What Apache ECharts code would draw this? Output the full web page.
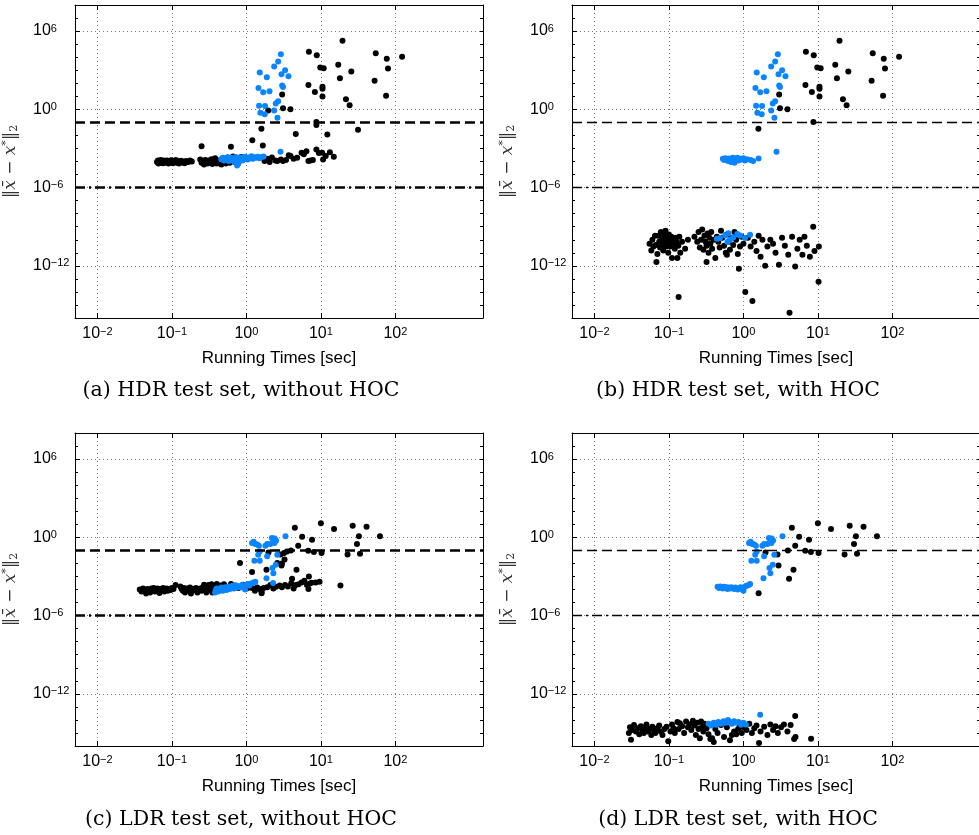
<!DOCTYPE html>
<html>
<head>
<meta charset="utf-8">
<script src="https://cdn.jsdelivr.net/npm/echarts@6/dist/echarts.min.js"></script>
<style>
html, body { margin: 0; background: #fff; }
#chart { width: 979px; height: 835px; }
</style>
</head>
<body>
<div id="chart"></div>
<script>
'use strict';

// ticks and reference levels
var xTicks = [0.01, 0.1, 1, 10, 100];
var yTicks = [1e-12, 1e-6, 1, 1e6];
var yDecades = [1e-16, 1e-15, 1e-14, 1e-13, 1e-12, 1e-11, 1e-10, 1e-9, 1e-8, 1e-7, 1e-6, 1e-5, 1e-4,
  1e-3, 1e-2, 1e-1, 1, 10, 100, 1e3, 1e4, 1e5, 1e6, 1e7, 1e8];
var thresholds = [0.1, 1e-6];
var captions = ['(a) HDR test set, without HOC', '(b) HDR test set, with HOC',
  '(c) LDR test set, without HOC', '(d) LDR test set, with HOC'];

// HDR, points that are the same with and without HOC
var hdrHighBlack = [[19.5,1.8e5],[6.9,2.6e4],[8.8,1.4e4],[9.8,1.6e3],[10.9,1.4e3],[17.1,2.6e3],[25.6,790],
  [18,240],[6.8,74],[8.3,21],[10.5,55],[10.5,38],[10.5,9.5],[21.7,5.9],[24.3,2.1],[54.5,2e4],[76.6,7.4e3],
  [79.6,1.35e3],[123,1.1e4],[52.6,158],[75,11.2],[3.02,14],[3.1,1.2],[3.9,1],[8.7,0.107],[1.59,0.032]];
var hdrHighBlue = [[2.9,1.7e4],[2.67,4.7e3],[2.36,1.9e3],[3.31,1e3],[1.51,660],[1.88,290],[2.96,490],
  [3.67,345],[1.45,44],[1.68,20],[2.04,24],[3.02,66],[3.1,52],[1.48,1.9],[1.78,1.8],[1.54,0.55],
  [1.76,0.42],[2.36,0.83],[2.48,2.75],[2.67,4.2],[2.61,0.23]];

// (a) HDR without HOC
var hdrBlackA = [[8.7,0.063],[1.96,0.83],[4.6,0.0126],[12.2,0.012],[31.5,0.027],[1.2,4.2e-3],[1.66,1.7e-3],
  [0.25,1.5e-3],[0.62,1.35e-3],[8.7,8.4e-4],[13.2,5.2e-4],[10.4,4.7e-4],[6.4,6e-4],[5.5,4.7e-4],
  [0.063,9e-5],[0.065,1.2e-4],[0.066,7e-5],[0.068,1e-4],[0.07,8e-5],[0.071,1.3e-4],[0.073,9e-5],
  [0.075,1.1e-4],[0.076,7.5e-5],[0.078,1.2e-4],[0.08,9e-5],[0.082,1.05e-4],[0.084,8e-5],[0.086,1.2e-4],
  [0.088,9.5e-5],[0.09,7e-5],[0.092,1.1e-4],[0.095,8.5e-5],[0.098,1.25e-4],[0.1,9e-5],[0.103,7.5e-5],
  [0.106,1.1e-4],[0.11,9e-5],[0.113,1.3e-4],[0.117,8e-5],[0.12,1.05e-4],[0.124,7e-5],[0.128,9.5e-5],
  [0.132,1.15e-4],[0.136,8.5e-5],[0.142,1e-4],[0.148,7.5e-5],[0.155,1.1e-4],[0.165,9e-5],[0.175,1.2e-4],
  [0.185,1e-4],
  [0.24,1.4e-4],[0.25,8e-5],[0.26,1.1e-4],[0.27,6e-5],[0.28,1.3e-4],[0.29,9e-5],[0.3,7e-5],[0.31,1.2e-4],
  [0.33,8e-5],[0.34,1.5e-4],[0.35,6.5e-5],[0.37,1e-4],[0.38,1.8e-4],[0.4,7e-5],[0.42,1.2e-4],[0.44,9e-5],
  [0.46,6e-5],[0.48,1.6e-4],[0.5,1e-4],[0.53,7e-5],[0.56,2e-4],[0.6,8e-5],[0.63,1.3e-4],[0.66,2.4e-4],
  [0.7,9e-5],[0.75,1.8e-4],[0.8,1.2e-4],[0.85,2.2e-4],
  [1.75,1.1e-4],[1.9,1.6e-4],[2.05,9e-5],[2.2,2e-4],[2.45,1.2e-4],[2.6,1.1e-4],[2.9,1.4e-4],[3.1,1.1e-4],
  [3.4,1.3e-4],[3.7,3e-4],[3.9,2.6e-4],[4.3,1.6e-4],[4.8,1.9e-4],[5.9,3.6e-4],[6.8,1.1e-4],[7.3,1.2e-4],
  [7.8,1.3e-4],[9.4,4.5e-4],[10.7,1.4e-4],[11.6,2.6e-4],[14.9,2.3e-4]];
var hdrBlueA = [[0.46,1.5e-4],[0.48,1.9e-4],[0.5,1.2e-4],[0.52,1.7e-4],[0.54,1.4e-4],[0.56,2.1e-4],
  [0.58,1.1e-4],[0.6,1.6e-4],[0.62,1.9e-4],[0.64,1.3e-4],[0.66,1.7e-4],[0.68,1e-4],[0.7,1.5e-4],
  [0.72,2.2e-4],[0.74,1.2e-4],[0.76,1.8e-4],[0.78,7e-5],[0.8,1.4e-4],[0.82,2e-4],[0.85,1.6e-4],
  [0.88,1.2e-4],[0.9,1.9e-4],[0.93,1.5e-4],[0.96,2.3e-4],[1.0,1.7e-4],[1.04,1.4e-4],[1.08,2e-4],
  [1.12,1.8e-4],[1.17,2.5e-4],[1.22,1.6e-4],[1.28,2.1e-4],[1.35,1.9e-4],[1.42,2.3e-4],[1.5,1.8e-4],
  [1.6,2.2e-4],[1.7,2.4e-4],[0.75,5e-5],[2.87,5.6e-4]];

// (b) HDR with HOC
var hdrBlackB = [[0.055,5e-11],[0.058,1.5e-11],[0.06,1e-10],[0.062,3e-11],[0.065,2e-10],[0.067,4e-11],
  [0.068,2e-12],[0.07,8e-12],[0.072,2e-10],[0.074,7e-11],[0.076,2.5e-11],[0.078,4e-10],[0.08,1e-10],
  [0.082,3.5e-11],[0.084,1.5e-11],[0.086,2e-10],[0.088,7e-11],[0.09,5e-10],[0.092,3e-11],[0.094,1.5e-10],
  [0.096,5e-11],[0.098,1e-11],[0.1,2.5e-10],[0.103,8e-11],[0.105,3e-11],[0.108,1.7e-10],[0.11,4e-12],
  [0.113,1e-10],[0.116,5e-11],[0.12,2e-11],[0.123,1.4e-10],[0.126,7e-11],[0.13,4e-12],[0.134,3.5e-11],
  [0.138,1.7e-10],[0.142,1e-11],[0.135,4e-15],[0.15,7e-11],[0.165,2e-11],[0.18,1e-10],
  [0.22,1.7e-10],[0.24,7e-11],[0.25,4e-10],[0.26,2.5e-11],[0.27,1e-10],[0.28,6e-10],[0.29,1.7e-11],
  [0.3,2e-10],[0.31,7e-11],[0.32,3.5e-11],[0.33,3e-10],[0.34,1e-11],[0.35,1.4e-10],[0.36,5e-11],[0.37,4e-10],
  [0.38,2e-11],[0.4,1e-10],[0.42,4e-12],[0.44,1.7e-10],[0.46,7e-11],[0.48,2.5e-11],[0.5,5e-10],[0.52,1.4e-10],
  [0.55,3.5e-11],[0.58,1e-11],[0.6,2.5e-10],[0.63,7e-11],[0.66,1.7e-11],[0.7,1.4e-10],[0.73,4e-11],
  [0.76,4e-10],[0.8,1e-10],[0.84,8e-12],[0.87,6e-13],[0.9,3e-11],[0.95,1.7e-10],[1.0,5e-11],[0.32,2e-12],
  [0.6,7e-12],[1.06,1e-14],
  [1.15,1.4e-10],[1.25,3e-11],[1.32,2e-15],[1.4,7e-11],[1.5,1.4e-11],[1.6,2e-10],[1.7,5e-12],[1.8,1e-10],
  [1.96,1e-12],[2.1,3e-11],[2.3,1e-10],[2.5,5e-11],[2.7,1e-11],[3.0,1.2e-12],[3.3,1.4e-10],[3.6,3.5e-11],
  [4.0,7e-12],[4.16,2.5e-16],[4.5,1.7e-10],[4.96,9e-13],[5.3,2e-11],[5.7,1e-10],[6.2,7e-12],[6.6,1.7e-10],
  [7.1,3.5e-11],[7.8,5e-12],[8.65,1e-9],[9.0,1.4e-11],[10.2,6e-14],[10.3,3e-11]];
var hdrBlueB = [[0.53,1.6e-4],[0.55,1.3e-4],[0.57,1.8e-4],[0.6,1.4e-4],[0.62,1.1e-4],[0.64,1.7e-4],
  [0.66,1.3e-4],[0.68,9e-5],[0.7,1.5e-4],[0.72,1.9e-4],[0.74,1.1e-4],[0.76,8e-5],[0.78,1.6e-4],[0.8,1.3e-4],
  [0.83,1.9e-4],[0.86,1.2e-4],[0.9,1.6e-4],[0.95,1.4e-4],[1.0,1.8e-4],[1.05,1.2e-4],[1.12,1.5e-4],
  [1.25,1.3e-4],[1.35,1.1e-4],[1.6,1.7e-4],[2.78,5.6e-4],
  [0.44,1.2e-10],[0.485,1.35e-10],[0.57,2.1e-10],[0.63,3.2e-10],[0.66,1e-10],[0.73,1.5e-10],[0.83,2.8e-10],
  [0.9,2.1e-10],[1.05,1.35e-10],[1.23,2.4e-10],[0.61,6.6e-11]];

// LDR, points that are the same with and without HOC
var ldrHighBlack = [[10,12],[4.47,5.5],[15,4.4],[26.7,7.9],[41,6.6],[32.4,1.2],[62,1.2],[5.6,1.1],[7.6,0.66],
  [4.96,0.23],[30.5,0.31],[33.5,0.055],[22.8,0.049],[6.76,0.094],[8.05,0.074],[10.2,0.062],[3.95,0.1],
  [2.87,0.049],[1.98,0.07],[2.96,7e-3],[4.7,3.2e-3],[4.1,6.6e-4],[1.6,5.2e-5]];
var ldrHighBlue = [[3.35,1.2],[2.29,0.76],[2.5,0.56],[2.38,0.37],[2.1,0.31],[1.9,0.31],[1.8,0.23],[1.19,0.37],
  [1.32,0.31],[1.47,0.23],[1.25,0.45],[1.4,0.28],[2.2,0.9],[2.4,0.8],[1.51,0.083],[1.44,0.047],[1.28,0.016],
  [1.51,0.016],[2.6,0.047],[1.9,0.035],[2.24,4.4e-3],[2.3,1.8e-3],[2.48,7.9e-3],[1.86,7.4e-4]];

// (c) LDR without HOC
var ldrBlackC = [[3.2,0.063],[3.5,0.083],[0.82,0.011],[2.6,0.011],[3.0,0.01],[3.25,0.02],[1.19,2.2e-3],
  [1.86,3.3e-3],[6.9,1e-3],[18.3,2e-4],
  [0.037,1e-4],[0.039,7e-5],[0.041,1.2e-4],[0.043,8e-5],[0.045,5e-5],[0.047,1.1e-4],[0.049,8e-5],
  [0.051,6e-5],[0.053,1.2e-4],[0.055,9e-5],[0.057,1.3e-4],[0.059,7e-5],[0.061,1e-4],[0.064,1.2e-4],
  [0.066,8e-5],[0.068,5.5e-5],[0.07,1.1e-4],[0.073,9e-5],[0.076,1.3e-4],[0.079,7e-5],[0.082,1e-4],
  [0.085,1.2e-4],[0.088,8e-5],[0.092,1.1e-4],[0.096,9e-5],[0.1,1.3e-4],[0.105,1.1e-4],[0.112,2.2e-4],
  [0.13,1.7e-4],[0.135,1.1e-4],[0.14,8e-5],[0.145,1.3e-4],[0.15,6e-5],[0.155,1e-4],[0.16,1.2e-4],
  [0.17,8e-5],[0.175,1.4e-4],[0.18,5e-5],[0.19,1.1e-4],[0.2,9e-5],[0.21,1.3e-4],[0.22,6e-5],[0.23,1e-4],
  [0.24,1.2e-4],[0.25,8e-5],[0.26,1.5e-4],[0.27,2.3e-4],[0.28,1e-4],[0.29,6e-5],[0.3,1.3e-4],[0.31,2.2e-4],
  [0.32,9e-5],[0.33,1.4e-4],[0.34,2.5e-4],[0.35,6e-5],[0.36,1.1e-4],[0.38,1.7e-4],[0.4,2.6e-4],
  [0.45,2e-4],[0.5,2.5e-4],[0.55,1.5e-4],[0.62,2.6e-4],[0.7,2e-4],[0.78,1.3e-4],[0.9,2.3e-4],[1.0,1.2e-4],
  [1.1,1.4e-4],[1.2,1.3e-4],[1.3,8e-5],[1.4,1.4e-4],[1.5,1.1e-4],[1.6,7e-5],[1.7,1.3e-4],[1.9,1.5e-4],
  [2.1,2.2e-4],[2.3,1.2e-4],[2.5,1.6e-4],[2.8,2e-4],[3.0,1.5e-4],[3.3,2.2e-4],[3.6,1.7e-4],[4.0,3e-4],
  [4.3,1.2e-4],[4.6,2.2e-4],[5.0,2.5e-4],[5.5,3.5e-4],[6.0,4.6e-4],[6.5,2.2e-4],[7.0,2.8e-4],[7.5,3.3e-4],
  [6.8,1.1e-4],[8.5,3.5e-4],[9.6,4e-4]];
var ldrBlueC = [[2.28,3.2e-4],[0.38,6e-5],[0.39,9e-5],[0.4,1.2e-4],[0.42,7e-5],[0.44,1e-4],[0.46,1.4e-4],
  [0.48,8e-5],[0.5,1.1e-4],[0.52,1.5e-4],[0.54,9e-5],[0.56,1.3e-4],[0.58,1.7e-4],[0.6,1.1e-4],[0.62,1.5e-4],
  [0.65,1.9e-4],[0.68,1.2e-4],[0.7,1.6e-4],[0.73,2e-4],[0.76,1.4e-4],[0.8,1.8e-4],[0.84,1.5e-4],
  [0.88,2.2e-4],[0.92,1.7e-4],[0.96,1e-4],[1.0,2.3e-4],[1.05,2.6e-4],[1.1,2e-4],[1.18,3e-4],[1.25,3.5e-4],
  [1.32,4e-4]];

// (d) LDR with HOC
var ldrBlackD = [[0.029,1e-15],[0.03,2.7e-15],[0.031,3e-16],[0.032,1.7e-15],[0.034,4e-15],[0.036,1.3e-15],
  [0.038,2.3e-15],[0.04,8e-16],[0.042,3.3e-15],[0.044,1.7e-15],[0.046,1e-15],[0.048,2.7e-15],[0.05,4.5e-15],
  [0.052,1.3e-15],[0.055,2e-15],[0.058,7e-16],[0.06,3e-15],[0.063,1.7e-15],[0.066,1e-15],[0.07,2.3e-15],
  [0.074,3.7e-15],[0.078,1.3e-15],[0.082,7e-16],[0.087,2e-15],[0.093,3e-15],[0.098,2.3e-16],[0.105,1.3e-15],
  [0.11,4.5e-15],[0.115,2.3e-15],[0.12,1e-15],[0.13,7e-15],[0.135,2e-15],[0.14,5.5e-15],[0.15,3.3e-15],
  [0.16,1e-15],[0.17,7.5e-15],[0.18,2.7e-15],[0.19,4.7e-15],[0.2,1.7e-15],[0.21,8.5e-15],[0.22,3.7e-15],
  [0.23,7e-16],[0.24,6e-15],[0.25,2e-15],[0.26,4e-16],[0.27,7.5e-15],[0.28,3e-15],[0.29,1.3e-15],
  [0.3,5e-15],[0.32,2.3e-15],[0.34,8e-16],[0.36,3.5e-16],[0.38,4e-16],[0.4,2e-16],[0.42,2e-15],[0.45,1e-15],
  [0.5,4e-15],[0.55,5e-16],[0.6,2.7e-15],[0.66,2.8e-16],[0.7,7e-16],[0.75,1.3e-15],[0.8,8e-16],[0.85,2e-15],
  [0.9,4e-15],[0.95,1e-15],[1.0,2.7e-15],[1.1,1.7e-15],[1.2,5e-15],[1.3,1e-15],[1.4,2.3e-15],[1.5,3.7e-15],
  [1.62,1.7e-16],[1.7,1.3e-15],[1.9,3e-15],[2.1,7e-16],[2.3,4.5e-15],[2.5,1.7e-15],[2.7,3.3e-15],
  [2.9,1e-15],[3.2,2.7e-15],[3.5,4.5e-15],[3.9,1.3e-15],[4.3,4e-15],[4.8,3.5e-16],[4.96,2e-14],[5.0,5e-16],
  [8.1,3.6e-16]];
var ldrBlueD = [[0.45,1.6e-4],[0.47,1.3e-4],[0.49,1.7e-4],[0.51,1.4e-4],[0.53,1.2e-4],[0.55,1.6e-4],
  [0.57,1.3e-4],[0.59,1.5e-4],[0.61,1.1e-4],[0.63,1.4e-4],[0.66,1.2e-4],[0.69,1.5e-4],[0.72,1.3e-4],
  [0.75,1.1e-4],[0.78,1.4e-4],[0.81,1.2e-4],[0.84,1e-4],[0.88,1.3e-4],[0.92,1.5e-4],[0.96,1.1e-4],
  [1.0,8e-5],[1.05,1.6e-4],[1.1,1.9e-4],[1.18,2.2e-4],[1.23,2.6e-4],
  [0.34,5e-15],[0.37,3.8e-15],[0.4,6e-15],[0.43,4.2e-15],[0.46,7e-15],[0.5,5e-15],[0.54,8e-15],[0.58,6e-15],
  [0.62,1e-14],[0.66,7e-15],[0.7,5e-15],[0.75,8e-15],[0.8,6e-15],[0.86,7e-15],[0.93,4.2e-15],[1.0,6e-15],
  [1.08,4.5e-15],[1.68,2.5e-14]];

var panels = [
  {left: 75, top: 5, black: hdrHighBlack.concat(hdrBlackA), blue: hdrHighBlue.concat(hdrBlueA), bold: true, cap: [241, 391]},
  {left: 572, top: 5, black: hdrHighBlack.concat(hdrBlackB), blue: hdrHighBlue.concat(hdrBlueB), bold: false, cap: [738, 391]},
  {left: 75, top: 433, black: ldrHighBlack.concat(ldrBlackC), blue: ldrHighBlue.concat(ldrBlueC), bold: true, cap: [241, 820]},
  {left: 572, top: 433, black: ldrHighBlack.concat(ldrBlackD), blue: ldrHighBlue.concat(ldrBlueD), bold: false, cap: [738, 820]}
];

var SANS = 'Liberation Sans';
var SERIF = 'DejaVu Serif';

function powLabel(v) {
  var e = Math.round(Math.log10(v));
  return '{b|10}{e|' + (e < 0 ? '\u2212' + (-e) : e) + '}';
}
var labelRich = {
  b: {fontFamily: SANS, fontSize: 16, lineHeight: 16, verticalAlign: 'bottom', color: '#000'},
  e: {fontFamily: SANS, fontSize: 11, lineHeight: 11, verticalAlign: 'top', padding: [0, 0, 12, 0], color: '#000'}
};
var gridLine = {show: true, lineStyle: {color: '#7a7a7a', width: 1, type: [1, 3]}};
var black = {color: '#000'};
var nameColor = '#333';

var option = {
  backgroundColor: '#fff',
  animation: false,
  grid: [], xAxis: [], yAxis: [], series: [], graphic: []
};

panels.forEach(function (p, i) {
  option.grid.push({left: p.left, top: p.top, width: 408, height: 313, show: false, outerBoundsMode: 'none'});
  // bottom x axis with labels, top x axis with ticks only
  option.xAxis.push({
    gridIndex: i, type: 'log', min: 0.005, max: 1500,
    name: 'Running Times [sec]', nameLocation: 'middle', nameGap: 31,
    nameTextStyle: {fontFamily: SANS, fontSize: 17, color: '#000'},
    axisLine: {show: true, lineStyle: black},
    axisTick: {show: true, inside: true, length: 5, customValues: xTicks, lineStyle: black},
    axisLabel: {customValues: xTicks, formatter: powLabel, rich: labelRich, margin: 8},
    splitLine: gridLine
  });
  option.xAxis.push({
    gridIndex: i, type: 'log', min: 0.005, max: 1500, position: 'top',
    axisLine: {show: true, lineStyle: black},
    axisTick: {show: true, inside: true, length: 5, customValues: xTicks, lineStyle: black},
    axisLabel: {show: false}, splitLine: {show: false}
  });
  // left y axis with labels, plus decade ticks left and right
  option.yAxis.push({
    gridIndex: i, type: 'log', min: 1e-16, max: 1e8, position: 'left',
    name: '{n|\u2016}{i|x\u0304}{n| \u2212 }{i|x}{s|*}{n|\u2016}{d|2}',
    nameLocation: 'middle', nameGap: 55, nameRotate: 90,
    nameTextStyle: {
      rich: {
        n: {fontFamily: SERIF, fontSize: 17, lineHeight: 19, color: nameColor},
        i: {fontFamily: SERIF, fontStyle: 'italic', fontSize: 17, lineHeight: 19, color: nameColor},
        s: {fontFamily: SERIF, fontSize: 11, lineHeight: 11, verticalAlign: 'top', color: nameColor},
        d: {fontFamily: SERIF, fontSize: 11, lineHeight: 11, verticalAlign: 'bottom', padding: [8, 0, 0, 0], color: nameColor}
      }
    },
    axisLine: {show: true, lineStyle: black},
    axisTick: {show: true, inside: true, length: 5, customValues: yTicks, lineStyle: black},
    axisLabel: {customValues: yTicks, formatter: powLabel, rich: labelRich, align: 'left', margin: 42},
    splitLine: gridLine
  });
  option.yAxis.push({
    gridIndex: i, type: 'log', min: 1e-16, max: 1e8, position: 'left',
    axisLine: {show: false},
    axisTick: {show: true, inside: true, length: 3, customValues: yDecades, lineStyle: black},
    axisLabel: {show: false}, splitLine: {show: false}
  });
  option.yAxis.push({
    gridIndex: i, type: 'log', min: 1e-16, max: 1e8, position: 'right',
    axisLine: {show: true, lineStyle: black},
    axisTick: {show: true, inside: true, length: 3, customValues: yDecades, lineStyle: black},
    axisLabel: {show: false}, splitLine: {show: false}
  });

  var w = p.bold ? 2.5 : 1.3;
  option.series.push({
    type: 'scatter', xAxisIndex: 2 * i, yAxisIndex: 3 * i,
    data: p.black, symbolSize: 6, itemStyle: {color: '#000', opacity: 1},
    emphasis: {disabled: true}, silent: true,
    markLine: {
      silent: true, symbol: 'none', label: {show: false}, animation: false, precision: 12,
      lineStyle: {color: '#000', width: w},
      data: [
        {yAxis: thresholds[0], lineStyle: {type: [10, 5], width: w, color: '#000'}},
        {yAxis: thresholds[1], lineStyle: {type: [10, 4, 2, 4], width: w, color: '#000'}}
      ]
    }
  });
  option.series.push({
    type: 'scatter', xAxisIndex: 2 * i, yAxisIndex: 3 * i,
    data: p.blue, symbolSize: 6, itemStyle: {color: '#0a84ff', opacity: 1},
    emphasis: {disabled: true}, silent: true
  });
  option.graphic.push({
    type: 'text', x: p.cap[0], y: p.cap[1],
    style: {text: captions[i], fontFamily: SERIF, fontSize: 20.5, fill: '#000', align: 'center', verticalAlign: 'middle'}
  });
});

var chart = echarts.init(document.getElementById('chart'), null, {renderer: 'canvas'});
chart.setOption(option);
</script>
</body>
</html>
